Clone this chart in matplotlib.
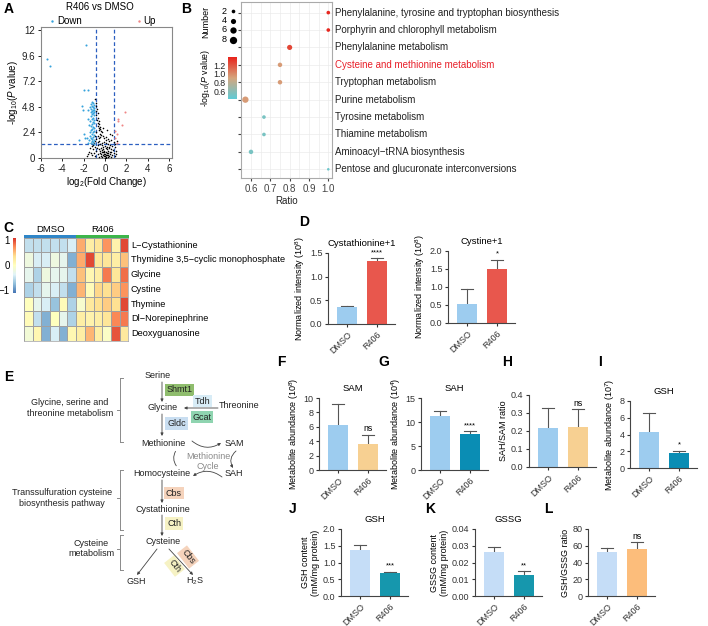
import numpy as np
import matplotlib
matplotlib.use('Agg')
import matplotlib.pyplot as plt
from matplotlib.colors import LinearSegmentedColormap, ListedColormap

plt.rcParams['font.family'] = ['Liberation Sans', 'DejaVu Sans']
plt.rcParams['mathtext.fontset'] = 'custom'
plt.rcParams['mathtext.rm'] = 'Liberation Sans'
plt.rcParams['mathtext.it'] = 'Liberation Sans:italic'
plt.rcParams['axes.unicode_minus'] = False

# ---------------- DATA ----------------
# Panel A volcano
ns_x = [-0.9,-0.85,-0.8,-0.75,-0.85,-0.7,-0.8,-0.65,-0.75,-0.6,-0.7,-0.55,-0.65,-0.5,-0.6,-0.45,-0.55,-0.4,-0.3,-0.5,
        -0.35,-0.2,-0.45,-0.6,-0.1,0.1,0.3,0.5,0.7,0.6,0.8,0.4,-0.8,-0.9,-0.7,-1.0,-1.2,-1.4,-1.5,-1.3,
        -1.1,-0.9,-0.7,-0.5,-0.3,-0.1,0.1,0.3,0.5,0.7,0.9,1.0,0.8,0.6,0.4,0.2,0.0,-0.2,-0.4,-0.6,
        -0.8,-1.0,-1.2,-0.9,-0.7,-0.5,-0.3,-0.1,0.1,0.3,0.5,0.7,0.9,0.6,0.4,0.2,0.0,-0.2,-0.4,-0.6,
        -0.3,-0.1,0.1,0.3,0.05,-0.05,0.15,-0.15,0.25,-0.25,0.35,-0.35,0.45,-0.45,0.55,0.0,-0.1,0.2,0.1,-0.2,
        0.3,1.1,-1.3,-1.1,-0.95,-0.8,-0.65,-1.6,-1.7,0.05,0.2,-0.15,0.9,0.75,1.05,-0.55,-0.75,-0.02,0.12,-0.28]
ns_y = [5.5,5.2,4.9,4.6,4.4,4.2,4.0,3.8,3.6,3.5,3.3,3.2,3.0,2.9,2.8,2.7,2.6,2.5,2.4,2.3,
        2.2,2.1,2.0,1.9,1.9,2.0,1.8,2.3,2.2,1.7,1.5,1.6,1.8,1.6,1.5,1.4,1.1,0.9,0.6,0.5,
        0.8,1.0,1.2,1.3,1.4,1.5,1.4,1.3,1.2,1.1,1.0,0.7,0.5,0.8,0.9,1.0,1.1,1.0,0.9,0.8,
        0.7,0.5,0.3,0.2,0.4,0.5,0.6,0.7,0.6,0.5,0.4,0.3,0.2,0.1,0.2,0.3,0.4,0.3,0.2,0.1,
        0.05,0.15,0.1,0.08,0.25,0.55,0.8,0.85,0.7,1.2,1.05,0.35,0.6,0.65,0.55,0.2,0.35,0.45,0.9,0.6,
        0.25,1.6,1.4,1.2,2.1,2.4,2.1,0.4,0.2,1.7,2.6,2.8,1.3,0.75,0.35,1.6,0.95,0.02,0.03,0.75]
down_x = [-1.8,-5.4,-5.2,-2.0,-1.6,-2.2,-2.1,-2.4,-2.0,-1.9,-1.2,-1.1,-1.3,-1.0,-1.2,-1.4,-1.1,-1.0,-1.3,-1.15,
          -1.05,-1.25,-1.0,-1.35,-1.1,-1.2,-1.0,-1.3,-1.1,-1.2,-1.0,-1.4,-1.15,-1.05,-1.25,-1.3,-1.1,-1.0,-1.2,-1.35,
          -1.05,-1.15,-1.25,-1.0,-1.4,-1.1,-1.3,-1.2,-1.5,-1.0,-1.25,-1.1,-1.6,-1.35,-1.0,-1.7,-1.45,-1.5,-1.6,-1.55]
down_y = [10.6,9.3,8.6,6.4,6.4,4.9,4.5,1.7,2.3,1.9,5.3,5.2,5.1,5.0,4.9,4.8,4.75,4.7,4.6,4.55,
          4.5,4.4,4.35,4.3,4.2,4.1,4.0,3.9,3.8,3.7,3.6,3.5,3.4,3.3,3.2,3.0,2.9,2.8,2.7,2.6,
          2.5,2.4,2.3,2.2,2.1,2.0,1.9,1.8,1.7,1.65,1.55,1.5,1.45,1.4,1.35,1.9,2.4,3.1,4.5,3.7]
up_x = [1.9, 1.2, 1.2, 1.6, 1.1, 0.95, 1.15, 0.95]
up_y = [4.3, 3.7, 3.5, 3.1, 2.3, 2.5, 1.4, 1.9]

# Panel B enrichment
pathways = ["Phenylalanine, tyrosine and tryptophan biosynthesis",
            "Porphyrin and chlorophyll metabolism",
            "Phenylalanine metabolism",
            "Cysteine and methionine metabolism",
            "Tryptophan metabolism",
            "Purine metabolism",
            "Tyrosine metabolism",
            "Thiamine metabolism",
            "Aminoacyl\u2212tRNA biosynthesis",
            "Pentose and glucuronate interconversions"]
ratio = [1.0, 1.0, 0.8, 0.75, 0.75, 0.571, 0.667, 0.667, 0.6, 1.0]
logp = [1.36, 1.36, 1.25, 0.95, 0.95, 0.95, 0.55, 0.55, 0.55, 0.50]
number = [2, 2, 4, 3, 3, 6, 2, 2, 3, 1]

# Panel C heatmap
heat_rows = ["L\u2212Cystathionine", "Thymidine 3,5\u2212cyclic monophosphate", "Glycine", "Cystine",
             "Thymine", "Dl\u2212Norepinephrine", "Deoxyguanosine"]
heat = np.array([
    [-0.5, -0.5, -0.5, -0.5, -0.5, -0.4, 0.6, 0.2, 0.3, 0.7, 0.15, 1.0],
    [-0.2, -0.4, -0.4, -0.2, -0.3, -0.8, 0.6, 1.0, 0.3, 0.3, 0.2, 0.5],
    [-0.3, -0.6, -0.2, -0.3, -0.3, -0.5, 0.5, 0.1, 0.2, 0.8, 0.3, 0.85],
    [-0.6, -0.5, -0.3, -0.4, -0.5, -0.8, 0.55, 0.05, 0.4, 0.35, 0.45, 0.7],
    [0.0, -0.3, -0.4, -0.7, 0.05, -0.6, -0.1, 0.25, 0.35, 0.45, 0.35, 1.0],
    [0.05, -0.5, -0.8, 0.0, -0.3, -0.6, 0.2, 0.15, 0.2, 0.3, 0.75, 0.8],
    [-0.15, 0.1, -0.8, -0.4, -0.8, 0.1, 0.2, 0.55, 0.2, -0.05, 0.95, 0.25]])
groups = ["DMSO", "R406"]

# Bar panels: mean, upper error
cysta_mean = [0.36, 1.34]; cysta_err = [0.38, 1.39]
cystine_mean = [0.54, 1.49]; cystine_err = [0.94, 1.76]
sam_mean = [6.2, 3.6]; sam_err = [9.2, 4.9]
sah_mean = [11.2, 7.4]; sah_err = [12.2, 8.1]
ratio_mean = [0.215, 0.225]; ratio_err = [0.33, 0.32]
gshm_mean = [4.3, 1.75]; gshm_err = [6.55, 2.05]
gsh_mean = [1.38, 0.68]; gsh_err = [1.52, 0.72]
gssg_mean = [0.026, 0.0123]; gssg_err = [0.0295, 0.0148]
gg_mean = [53, 56]; gg_err = [57, 64]

# ---------------- FIGURE ----------------
W, H = 708, 626
fig = plt.figure(figsize=(W / 100, H / 100), dpi=100)


def ax_px(x0, y0, x1, y1):
    return fig.add_axes([x0 / W, 1 - y1 / H, (x1 - x0) / W, (y1 - y0) / H])


# ---- Panel A ----
axA = ax_px(41, 27, 172, 158)
axA.scatter(ns_x, ns_y, s=1.3, c='black', linewidths=0, zorder=3)
axA.scatter(down_x, down_y, s=2.2, c='#36a3dc', linewidths=0, zorder=3)
axA.scatter(up_x, up_y, s=2.2, c='#f08585', linewidths=0, zorder=3)
for xv in (-0.87, 0.85):
    axA.axvline(xv, color='#2b5fc0', ls=(0, (3, 2)), lw=0.9, zorder=2)
axA.axhline(1.3, color='#2b5fc0', ls=(0, (3, 2)), lw=0.9, zorder=2)
axA.set_xlim(-6, 6.28)
axA.set_ylim(0, 12.3)
axA.set_xticks([-6, -4, -2, 0, 2, 4, 6])
axA.set_yticks([0, 2.4, 4.8, 7.2, 9.6, 12])
axA.set_yticklabels(['0', '2.4', '4.8', '7.2', '9.6', '12'])
axA.tick_params(labelsize=7, length=2.5, width=0.7, pad=1.5, colors='#222')
for s in axA.spines.values():
    s.set_color('#888')
    s.set_linewidth(0.8)
axA.set_xlabel('log$_2$(Fold Change)', fontsize=7, labelpad=1)
axA.set_ylabel('-log$_{10}$($\\it{P}$ value)', fontsize=7, labelpad=1)

# ---- Panel B ----
axB = ax_px(240.7, 2, 331.7, 178)
cmapB = LinearSegmentedColormap.from_list('b', ['#5ecbd6', '#d5a67e', '#e8221b'])


def dot_s(n):
    d = 2.58 * np.sqrt(n) * 0.72
    return d * d


rows = np.arange(len(pathways))
scB = axB.scatter(ratio, rows, s=[dot_s(n) for n in number], c=logp, cmap=cmapB,
                  vmin=0.44, vmax=1.38, linewidths=0, zorder=3)
axB.set_xlim(0.5467, 1.0176)
axB.set_ylim(9.5, -0.61)
axB.set_xticks([0.6, 0.7, 0.8, 0.9, 1.0])
axB.set_xticklabels(['0.6', '0.7', '0.8', '0.9', '1.0'])
axB.set_xticks([0.65, 0.75, 0.85, 0.95], minor=True)
axB.set_yticks(rows)
axB.set_yticklabels([])
axB.grid(True, which='both', color='#ebebeb', lw=0.5, zorder=0)
axB.tick_params(axis='x', labelsize=7, length=2, colors='#444', pad=2)
axB.tick_params(axis='x', which='minor', length=0)
axB.tick_params(axis='y', length=2, colors='#444')
for s in axB.spines.values():
    s.set_color('#aaa')
    s.set_linewidth(0.8)
axB.set_xlabel('Ratio', fontsize=7, labelpad=2, color='#222')
for i, p in enumerate(pathways):
    axB.text(1.035, i, p, transform=axB.get_yaxis_transform(), fontsize=7, va='center', ha='left',
             color='#e8202a' if i == 3 else '#222', clip_on=False)
caxB = ax_px(227.7, 57, 236.7, 99)
cbB = fig.colorbar(scB, cax=caxB)
cbB.outline.set_visible(False)
caxB.yaxis.set_ticks_position('left')
cbB.set_ticks([0.6, 0.8, 1.0, 1.2])
cbB.set_ticklabels(['0.6', '0.8', '1.0', '1.2'])
caxB.tick_params(labelsize=6.3, length=0, pad=1.5, colors='#222')

# ---- Panel C ----
axC = ax_px(24, 237.7, 128.3, 341)
hm_cmap = LinearSegmentedColormap.from_list('ph', ['#4575B4', '#91BFDB', '#E0F3F8', '#FFFFBF',
                                                   '#FEE090', '#FC8D59', '#D73027'])
pc = axC.pcolormesh(heat, cmap=hm_cmap, vmin=-1.1, vmax=1.1, edgecolors='#a0a0a0', linewidth=0.5)
axC.set_xlim(0, heat.shape[1])
axC.set_ylim(heat.shape[0], 0)
axC.set_xticks([])
axC.set_yticks([])
for s in axC.spines.values():
    s.set_color('#a0a0a0')
    s.set_linewidth(0.5)
for i, r in enumerate(heat_rows):
    axC.text(1.025, i + 0.5, r, transform=axC.get_yaxis_transform(), fontsize=6.6,
             va='center', ha='left', clip_on=False)
axCa = ax_px(24, 235.3, 128.3, 237.7)
grp_idx = np.array([[0] * 6 + [1] * 6])
axCa.imshow(grp_idx, cmap=ListedColormap(['#2f86c8', '#3db54a']), aspect='auto')
axCa.axis('off')
for j, g in enumerate(groups):
    axCa.text(2.5 + 6 * j, -1.2, g, ha='center', va='bottom', fontsize=6.8,
              transform=axCa.transData, clip_on=False)
caxC = ax_px(12.7, 237.7, 16, 293)
cbC = fig.colorbar(pc, cax=caxC)
cbC.outline.set_visible(False)
caxC.yaxis.set_ticks_position('left')
cbC.set_ticks([-1, 0, 1])
cbC.set_ticklabels(['\u22121', '0', '1'])
caxC.tick_params(labelsize=7, length=0, pad=2)


# ---- Bar panels ----
def bar_panel(axis_x, y_top, y_bot, vals, errs, cols, ymax, yticks, ytl, ylabel,
              title=None, sig=None, unit=30):
    x0, x1 = -0.63, 1.6
    ax = ax_px(axis_x, y_top, axis_x + (x1 - x0) * unit, y_bot)
    ax.bar([0, 1], vals, width=0.68, color=cols, zorder=2)
    for i, (v, e) in enumerate(zip(vals, errs)):
        ax.plot([i, i], [v, e], color='#555', lw=0.8, zorder=1, clip_on=False)
        ax.plot([i - 0.2, i + 0.2], [e, e], color='#555', lw=0.8, zorder=1, clip_on=False)
    if sig:
        ax.annotate(sig, (1, errs[1]), xytext=(0, 1.5 if sig != 'ns' else 1), textcoords='offset points',
                    ha='center', va='bottom', fontsize=6.3 if sig == 'ns' else 5.5, annotation_clip=False)
    ax.set_xlim(x0, x1)
    ax.set_ylim(0, ymax)
    ax.set_yticks(yticks)
    ax.set_yticklabels(ytl)
    ax.set_xticks([0, 1])
    ax.set_xticklabels(groups, rotation=45, ha='right', rotation_mode='anchor')
    for k in ('top', 'right'):
        ax.spines[k].set_visible(False)
    for k in ('left', 'bottom'):
        ax.spines[k].set_color('#444')
        ax.spines[k].set_linewidth(0.8)
    ax.tick_params(labelsize=6.5, length=2.5, width=0.8, pad=1.5, colors='#333')
    ax.set_ylabel(ylabel, fontsize=6.5, labelpad=2)
    if title:
        ax.set_title(title, fontsize=6.8, pad=5)
    return ax


LB, RED, ORG, TEAL = '#9dccef', '#e8574d', '#f7d092', '#0a8db4'
PB, TEAL2, ORG2 = '#c5ddf7', '#1697ad', '#fcbd7b'

bar_panel(328, 253, 324, cysta_mean, cysta_err, [LB, RED], 1.5, [0, 0.5, 1.0, 1.5],
          ['0.0', '0.5', '1.0', '1.5'], 'Normalized intensity (10$^8$)', 'Cystathionine+1', '****')
bar_panel(448, 251, 323, cystine_mean, cystine_err, [LB, RED], 2.0, [0, 0.5, 1.0, 1.5, 2.0],
          ['0.0', '0.5', '1.0', '1.5', '2.0'], 'Normalized intensity (10$^8$)', 'Cystine+1', '*')
bar_panel(319, 398, 470, sam_mean, sam_err, [LB, ORG], 10, [0, 2, 4, 6, 8, 10],
          ['0', '2', '4', '6', '8', '10'], 'Metabolite abundance (10$^8$)', 'SAM', 'ns')
bar_panel(421, 398, 470, sah_mean, sah_err, [LB, TEAL], 15, [0, 5, 10, 15],
          ['0', '5', '10', '15'], 'Metabolite abundance (10$^4$)', 'SAH', '****')
bar_panel(529, 395, 467, ratio_mean, ratio_err, [LB, ORG], 0.4, [0, 0.1, 0.2, 0.3, 0.4],
          ['0.0', '0.1', '0.2', '0.3', '0.4'], 'SAH/SAM ratio', None, 'ns')
bar_panel(630, 401, 468, gshm_mean, gshm_err, [LB, TEAL], 8, [0, 2, 4, 6, 8],
          ['0', '2', '4', '6', '8'], 'Metabolite abundance (10$^7$)', 'GSH', '*')
bar_panel(341, 529, 596, gsh_mean, gsh_err, [PB, TEAL2], 2.0, [0, 0.5, 1.0, 1.5, 2.0],
          ['0.0', '0.5', '1.0', '1.5', '2.0'], 'GSH content\n(mM/mg protein)', 'GSH', '***')
bar_panel(475, 529, 596, gssg_mean, gssg_err, [PB, TEAL2], 0.04, [0, 0.01, 0.02, 0.03, 0.04],
          ['0.00', '0.01', '0.02', '0.03', '0.04'], 'GSSG content\n(mM/mg protein)', 'GSSG', '**')
bar_panel(588, 529, 596, gg_mean, gg_err, [PB, ORG2], 80, [0, 20, 40, 60, 80],
          ['0', '20', '40', '60', '80'], 'GSH/GSSG ratio', None, 'ns')

# ---- Overlay: panel letters, legends, diagram E ----
ov = fig.add_axes([0, 0, 1, 1])
ov.set_xlim(0, W)
ov.set_ylim(H, 0)
ov.axis('off')
ov.patch.set_alpha(0)

for lab, (lx, ly) in {'A': (4, 9), 'B': (181, 9), 'C': (3, 228), 'D': (299, 222), 'E': (4, 377),
                      'F': (277, 362), 'G': (378, 362), 'H': (502, 362), 'I': (598, 362),
                      'J': (289, 509), 'K': (425, 509), 'L': (544, 509)}.items():
    ov.text(lx, ly, lab, fontsize=10, fontweight='bold', va='center', ha='left')

# Panel A title and legend
ov.text(100, 7.5, 'R406 vs DMSO', fontsize=7, ha='center', va='center')
ov.scatter([52], [21], s=3, c='#36a3dc', linewidths=0)
ov.text(57, 21, 'Down', fontsize=7, va='center')
ov.scatter([139], [21], s=3, c='#f08585', linewidths=0)
ov.text(143, 21, 'Up', fontsize=7, va='center')

# Panel B size legend
for n, yy in zip([2, 4, 6, 8], [11, 20.7, 29.7, 40]):
    ov.scatter([233], [yy], s=dot_s(n), c='black', linewidths=0)
    ov.text(227, yy, str(n), fontsize=6.5, va='center', ha='right')
ov.text(206, 22, 'Number', fontsize=6.5, rotation=90, va='center', ha='center')
ov.text(205, 78, '-log$_{10}$($\\it{P}$ value)', fontsize=6.3, rotation=90, va='center', ha='center')

# Panel E diagram
FS = 6.5
tc = '#222'
ov.text(158, 376, 'Serine', fontsize=FS, ha='center', va='center', color=tc)
ov.text(163, 408, 'Glycine', fontsize=FS, ha='center', va='center', color=tc)
ov.text(239, 405, 'Threonine', fontsize=FS, ha='center', va='center', color=tc)
ov.text(163, 444, 'Methionine', fontsize=FS, ha='center', va='center', color=tc)
ov.text(234, 444, 'SAM', fontsize=FS, ha='center', va='center', color=tc)
ov.text(208, 461.5, 'Methionine\nCycle', fontsize=FS, ha='center', va='center', color='#8a8a8a',
        linespacing=1.2)
ov.text(162, 474, 'Homocysteine', fontsize=FS, ha='center', va='center', color=tc)
ov.text(234, 474, 'SAH', fontsize=FS, ha='center', va='center', color=tc)
ov.text(163, 509, 'Cystathionine', fontsize=FS, ha='center', va='center', color=tc)
ov.text(163, 542, 'Cysteine', fontsize=FS, ha='center', va='center', color=tc)
ov.text(136, 581, 'GSH', fontsize=FS, ha='center', va='center', color=tc)
ov.text(195, 581, 'H$_2$S', fontsize=FS, ha='center', va='center', color=tc)


def enz(x, y, t, col, rot=0):
    ov.text(x, y, t, fontsize=FS, ha='center', va='center', rotation=rot, color=tc,
            bbox=dict(boxstyle='square,pad=0.2', fc=col, ec='none'))


enz(179.5, 390, 'Shmt1', '#8fbd6d')
enz(202.5, 401, 'Tdh', '#d8ecf6')
enz(202, 417, 'Gcat', '#8fd4b0')
enz(176.5, 423.5, 'Gldc', '#c9def1')
enz(174, 493, 'Cbs', '#f5d3bc')
enz(174, 523.5, 'Cth', '#f6f2c4')
enz(188, 557, 'Cbs', '#f5d3bc', rot=-52)
enz(174.5, 566, 'Cth', '#f6f2c4', rot=-52)

ap = dict(arrowstyle='-|>', lw=0.6, color='#444', mutation_scale=4, shrinkA=0, shrinkB=0)
ov.annotate('', xy=(162, 402), xytext=(162, 382), arrowprops=ap)
ov.annotate('', xy=(162, 436), xytext=(162, 414), arrowprops=ap)
ov.annotate('', xy=(184, 408), xytext=(218, 408), arrowprops=ap)
ov.annotate('', xy=(162, 503), xytext=(162, 480), arrowprops=ap)
ov.annotate('', xy=(162, 536), xytext=(162, 515), arrowprops=ap)
ov.annotate('', xy=(137, 575), xytext=(157, 549), arrowprops=ap)
ov.annotate('', xy=(193, 575), xytext=(169, 549), arrowprops=ap)
# methionine cycle arcs
apc = dict(arrowstyle='-|>', lw=0.6, color='#444', mutation_scale=4, shrinkA=0, shrinkB=0)
ov.annotate('', xy=(221, 443), xytext=(192, 441), arrowprops=dict(apc, connectionstyle='arc3,rad=0.35'))
ov.annotate('', xy=(233, 468), xytext=(236, 451), arrowprops=dict(apc, connectionstyle='arc3,rad=0.4'))
ov.annotate('', xy=(193, 476), xytext=(222, 477), arrowprops=dict(apc, connectionstyle='arc3,rad=0.35'))
ov.annotate('', xy=(177, 449), xytext=(178, 468),
            arrowprops=dict(arrowstyle='-', lw=0.6, color='#444', connectionstyle='arc3,rad=-0.4'))

# brackets
bc = '#8a8a8a'
for (y1, y2, ym) in [(378, 442, 410), (470, 530, 498), (535, 570, 549)]:
    ov.plot([120, 120], [y1, y2], color=bc, lw=0.7)
    ov.plot([120, 123], [y1, y1], color=bc, lw=0.7)
    ov.plot([120, 123], [y2, y2], color=bc, lw=0.7)
    ov.plot([117, 120], [ym, ym], color=bc, lw=0.7)
ov.text(70, 408, 'Glycine, serine and\nthreonine metabolism', fontsize=FS, ha='center', va='center',
        color=tc, linespacing=1.25)
ov.text(62, 498, 'Transsulfuration cysteine\nbiosynthesis pathway', fontsize=FS, ha='center', va='center',
        color=tc, linespacing=1.25)
ov.text(91, 548.5, 'Cysteine\nmetabolism', fontsize=FS, ha='center', va='center', color=tc,
        linespacing=1.25)

fig.savefig('out.png', dpi=100)
